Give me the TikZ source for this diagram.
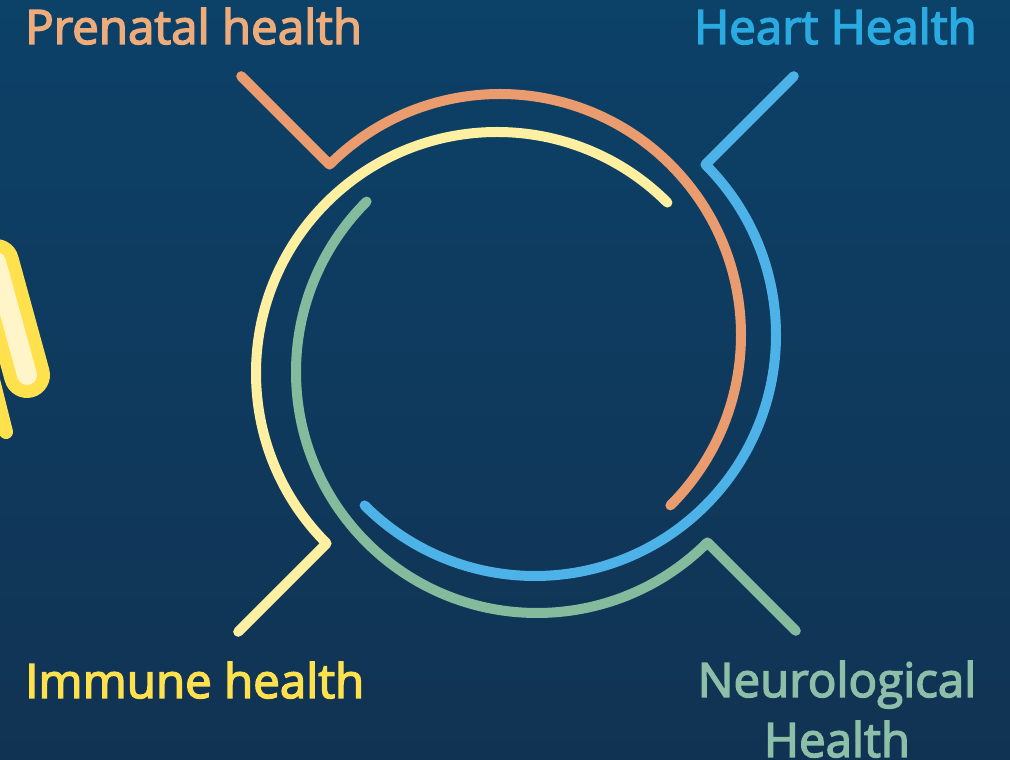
\documentclass[tikz,border=0pt]{standalone}
\usepackage{fontspec}
\newfontfamily\tagfont{Open Sans}[FakeBold=3]
\usetikzlibrary{calc}

\definecolor{bgtop}{RGB}{12,65,104}
\definecolor{bgbot}{RGB}{17,51,83}
\definecolor{preline}{RGB}{234,156,110}
\definecolor{pretext}{RGB}{239,172,123}
\definecolor{immline}{RGB}{255,240,161}
\definecolor{immtext}{RGB}{255,225,78}
\definecolor{neuline}{RGB}{132,187,157}
\definecolor{neutext}{RGB}{140,190,168}
\definecolor{hrtline}{RGB}{77,178,232}
\definecolor{hrttext}{RGB}{41,171,226}
\definecolor{iconpale}{RGB}{255,245,200}

\begin{document}
\begin{tikzpicture}[x=1pt,y=1pt,
    ring/.style={line width=10pt,line cap=round,line join=round},
    tag/.style={font=\tagfont\fontsize{47.5}{60}\selectfont,inner sep=0pt}]
    \useasboundingbox (0,0) rectangle (1010,760);
    \fill[top color=bgtop,bottom color=bgbot] (0,0) rectangle (1010,760);
    \clip (0,0) rectangle (1010,760);

    % icon cut off at the left edge
    \draw[line width=14pt,line cap=round,immtext] (-12,400) -- (6,328);
    \coordinate (cap_a) at (-4,498);
    \coordinate (cap_b) at (27,385);
    \draw[line width=46pt,line cap=round,immtext] (cap_a) -- (cap_b);
    \draw[line width=20pt,line cap=round,iconpale] (cap_a) -- (cap_b);

    % centres of the four rings
    \coordinate (c_pre) at (500,425);
    \coordinate (c_imm) at (497,387);
    \coordinate (c_neu) at (537,388);
    \coordinate (c_hrt) at (535,425);

    % free ends of the ticks
    \coordinate (pre_end) at ($(c_pre)+(135:366pt)$);
    \coordinate (imm_end) at ($(c_imm)+(225:366pt)$);
    \coordinate (neu_end) at ($(c_neu)+(315:366pt)$);
    \coordinate (hrt_end) at ($(c_hrt)+(45:366pt)$);

    \draw[ring,preline] (pre_end) -- ($(c_pre)+(135:241pt)$)
        arc[start angle=135,end angle=-45,radius=241pt];
    \draw[ring,immline] (imm_end) -- ($(c_imm)+(225:241pt)$)
        arc[start angle=225,end angle=45,radius=241pt];
    \draw[ring,neuline] (neu_end) -- ($(c_neu)+(315:241pt)$)
        arc[start angle=315,end angle=135,radius=241pt];
    \draw[ring,hrtline] (hrt_end) -- ($(c_hrt)+(45:241pt)$)
        arc[start angle=45,end angle=-135,radius=241pt];

    \node[tag,text=pretext,anchor=base west] (pre_lbl) at (25,716) {Prenatal health};
    \node[tag,text=hrttext,anchor=base east] (hrt_lbl) at (977,716) {Heart Health};
    \node[tag,text=immtext,anchor=base west] (imm_lbl) at (25,62) {Immune health};
    \node[tag,text=neutext,align=center,anchor=base] (neu_lbl) at (837,3) {Neurological\\Health};
\end{tikzpicture}
\end{document}
